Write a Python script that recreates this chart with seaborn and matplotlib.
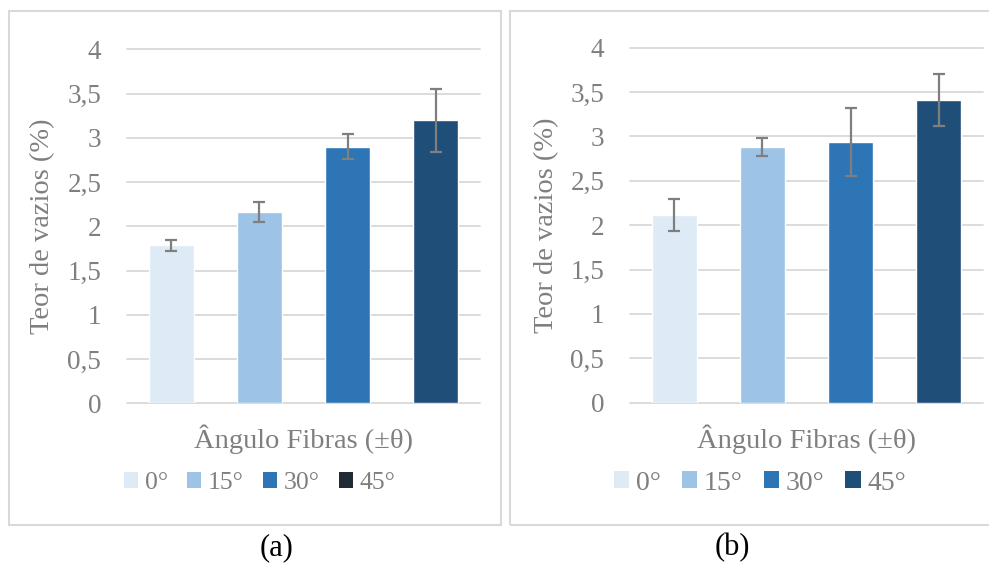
import matplotlib
matplotlib.use("Agg")
import matplotlib.pyplot as plt
from matplotlib.patches import Patch, Rectangle
import seaborn as sns

# Fibre angle categories and void content (%) with standard deviations
angles = ["0°", "15°", "30°", "45°"]
voids_a = [1.785, 2.16, 2.90, 3.20]
err_a = [0.065, 0.113, 0.145, 0.355]
voids_b = [2.115, 2.88, 2.94, 3.41]
err_b = [0.175, 0.105, 0.38, 0.29]

y_ticks = [0, 0.5, 1, 1.5, 2, 2.5, 3, 3.5, 4]
y_tick_labels = ["0", "0,5", "1", "1,5", "2", "2,5", "3", "3,5", "4"]

bar_colors = ["#deebf7", "#9dc3e6", "#2e75b6", "#1f4e79"]
legend_colors_a = ["#deebf7", "#9dc3e6", "#2e75b6", "#222a35"]
legend_colors_b = bar_colors

x_label = "Ângulo Fibras (±θ)"
y_label = "Teor de vazios (%)"
captions = ["(a)", "(b)"]

sns.set_style("white")
plt.rcParams["font.family"] = ["Liberation Serif", "DejaVu Serif"]

TEXT = "#7f7f7f"
GRID = "#d9d9d9"
W, H = 989, 564

fig = plt.figure(figsize=(W / 100, H / 100), dpi=100)


def fx(px):
    return px / W


def fy(py):
    return 1 - py / H


def panel(x0, x1, y_top, y_zero, values, errs, legend_colors, leg_center,
          leg_size, ylab_x, caption_x, caption):
    ax = fig.add_axes([fx(x0), fy(y_zero), fx(x1) - fx(x0), fy(y_top) - fy(y_zero)])
    sns.barplot(x=angles, y=values, hue=angles, order=angles, hue_order=angles,
                palette=bar_colors, saturation=1, width=0.51, legend=False,
                ax=ax, zorder=2)
    ax.errorbar(range(len(values)), values, yerr=errs, fmt="none",
                ecolor="#7f7f7f", elinewidth=1.6, capsize=4.4, capthick=1.6,
                zorder=3)
    ax.set_xlim(-0.5, 3.5)
    ax.set_ylim(0, 4)
    ax.set_yticks(y_ticks)
    ax.set_yticklabels(y_tick_labels)
    ax.set_xticks([])
    ax.set_xlabel("")
    ax.set_ylabel("")
    ax.tick_params(axis="y", length=0, pad=18.5, labelsize=19.5, labelcolor=TEXT)
    ax.yaxis.grid(True, color=GRID, lw=1.3)
    for gl in ax.get_ygridlines():
        gl.set_clip_on(False)
    ax.set_axisbelow(True)
    for s in ax.spines.values():
        s.set_visible(False)
    ax.patch.set_alpha(0)

    fig.text(fx((x0 + x1) / 2), fy(448), x_label, ha="center", va="baseline",
             fontsize=20.5, color=TEXT)
    fig.text(fx(ylab_x), fy((y_top + y_zero) / 2), y_label, rotation=90,
             ha="center", va="center", fontsize=20.5, color=TEXT)

    handles = [Patch(facecolor=c, edgecolor="none") for c in legend_colors]
    fig.legend(handles, angles, loc="center", bbox_to_anchor=(fx(leg_center[0]), fy(leg_center[1])),
               ncol=4, frameon=False, fontsize=leg_size, labelcolor=TEXT,
               handlelength=0.55, handleheight=0.55, handletextpad=0.25,
               columnspacing=0.75, borderpad=0)

    fig.text(fx(caption_x), fy(548), caption, ha="center", va="center",
             fontsize=22, color="black")
    return ax


panel(127, 480, 49.3, 403.3, voids_a, err_a, legend_colors_a, (259.5, 483),
      18.5, 43, 277, captions[0])
panel(630, 983, 47.7, 402.7, voids_b, err_b, legend_colors_b, (760, 483),
      20, 547, 732, captions[1])

# chart-area frames
for (x0, x1) in [(9, 501), (510, 1000)]:
    fig.add_artist(Rectangle((fx(x0), fy(525)), fx(x1) - fx(x0), fy(11) - fy(525),
                             transform=fig.transFigure, fill=False,
                             edgecolor=GRID, lw=1.5))

fig.savefig("out.png", dpi=100)
